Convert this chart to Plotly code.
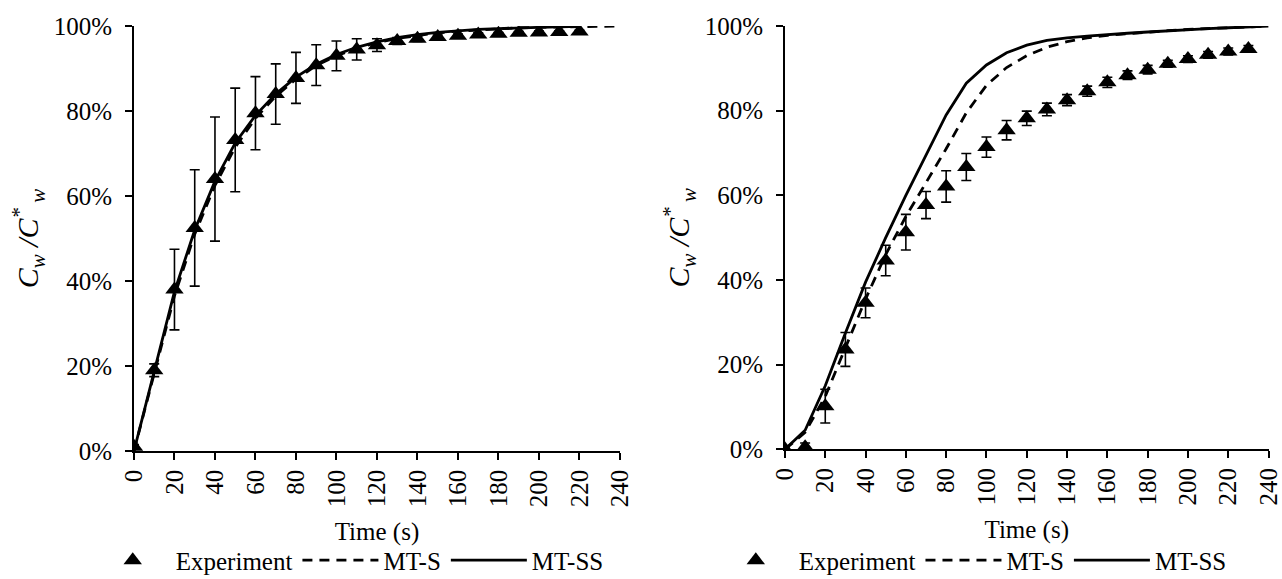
import plotly.graph_objects as go

# ---- data: left panel ----
t_exp_a = [0, 10, 20, 30, 40, 50, 60, 70, 80, 90, 100, 110, 120, 130, 140, 150, 160, 170, 180, 190, 200, 210, 220]
exp_a = [1.0, 19.0, 38.0, 52.5, 64.0, 73.2, 79.5, 84.0, 87.8, 90.8, 93.0, 94.5, 95.5, 96.5, 97.0, 97.4, 97.7, 98.0, 98.2, 98.4, 98.5, 98.6, 98.7]
err_a = [0.5, 1.5, 9.5, 13.7, 14.6, 12.2, 8.6, 7.1, 6.0, 4.8, 3.5, 2.5, 1.5, 0.8, 0.6, 0.5, 0.4, 0.4, 0.3, 0.3, 0.3, 0.3, 0.3]

t_mts_a = [0, 10, 20, 30, 40, 50, 60, 70, 80, 90, 100, 110, 120, 130, 140, 150, 160, 170, 180, 190, 200, 210, 220, 230, 240]
mts_a = [0.0, 18.5, 36.5, 51.0, 62.5, 71.5, 78.3, 83.5, 87.5, 90.7, 93.0, 94.8, 96.1, 97.1, 97.8, 98.4, 98.8, 99.1, 99.4, 99.6, 99.7, 99.8, 99.9, 100.0, 100.0]

t_mtss_a = [0, 10, 20, 30, 40, 50, 60, 70, 80, 90, 100, 110, 120, 130, 140, 150, 160, 170, 180, 190, 200, 210, 220]
mtss_a = [0.0, 19.0, 37.5, 52.0, 63.5, 72.5, 79.0, 84.0, 88.0, 91.0, 93.3, 95.0, 96.3, 97.3, 98.0, 98.5, 98.9, 99.2, 99.4, 99.6, 99.7, 99.8, 99.9]

# ---- data: right panel ----
t_exp_b = [0, 10, 20, 30, 40, 50, 60, 70, 80, 90, 100, 110, 120, 130, 140, 150, 160, 170, 180, 190, 200, 210, 220, 230]
exp_b = [0.0, 0.5, 10.2, 23.6, 34.6, 44.6, 51.3, 57.7, 62.1, 66.7, 71.4, 75.4, 78.2, 80.3, 82.5, 84.6, 86.7, 88.4, 89.7, 91.1, 92.2, 93.2, 94.0, 94.6]
err_b = [0.3, 1.0, 4.0, 4.0, 3.5, 3.6, 4.2, 3.2, 3.7, 3.2, 2.4, 2.3, 1.7, 1.5, 1.3, 1.2, 1.2, 1.0, 1.0, 0.8, 0.8, 0.8, 0.8, 0.8]

t_mod_b = [0, 10, 20, 30, 40, 50, 60, 70, 80, 90, 100, 110, 120, 130, 140, 150, 160, 170, 180, 190, 200, 210, 220, 230, 240]
mts_b = [0.0, 4.0, 12.5, 24.0, 35.5, 46.0, 55.0, 63.0, 71.0, 79.5, 86.0, 90.2, 93.0, 95.0, 96.3, 97.2, 97.8, 98.2, 98.6, 98.9, 99.2, 99.4, 99.6, 99.8, 100.0]
mtss_b = [0.0, 4.5, 15.0, 27.5, 39.5, 50.0, 60.0, 69.5, 79.0, 86.5, 90.8, 93.7, 95.5, 96.6, 97.2, 97.6, 98.0, 98.3, 98.6, 98.9, 99.2, 99.4, 99.6, 99.8, 100.0]

x_ticks = list(range(0, 241, 20))
y_ticks = [0, 20, 40, 60, 80, 100]
y_ticktext = [f"{v}%" for v in y_ticks]

FONT = "Times New Roman, Liberation Serif, DejaVu Serif, serif"
BLACK = "#000000"
FS = 25

fig = go.Figure()


def add_panel(xa, ya, legend, t_exp, exp, err, t_s, mts, t_ss, mtss):
    fig.add_trace(go.Scatter(
        x=t_exp, y=exp, mode="markers", name="Experiment",
        marker=dict(symbol="triangle-up", size=16, color=BLACK),
        error_y=dict(type="data", array=err, visible=True, color=BLACK, thickness=1.6, width=5),
        xaxis=xa, yaxis=ya, legend=legend,
    ))
    fig.add_trace(go.Scatter(
        x=t_s, y=mts, mode="lines", name="MT-S",
        line=dict(color=BLACK, width=2.8, dash="10px,7px"),
        xaxis=xa, yaxis=ya, legend=legend,
    ))
    fig.add_trace(go.Scatter(
        x=t_ss, y=mtss, mode="lines", name="MT-SS",
        line=dict(color=BLACK, width=2.8),
        xaxis=xa, yaxis=ya, legend=legend,
    ))


add_panel("x", "y", "legend", t_exp_a, exp_a, err_a, t_mts_a, mts_a, t_mtss_a, mtss_a)
add_panel("x2", "y2", "legend2", t_exp_b, exp_b, err_b, t_mod_b, mts_b, t_mod_b, mtss_b)

xaxis_common = dict(
    range=[0, 240], tickvals=x_ticks, tickangle=-90, automargin=False,
    ticklabeloverflow="allow",
    showline=True, linecolor=BLACK, linewidth=1.6, mirror=False,
    ticks="outside", ticklen=7, tickwidth=1.6, tickcolor=BLACK,
    showgrid=False, zeroline=False,
    tickfont=dict(family=FONT, size=FS, color=BLACK),
    title=dict(text="Time (s)", font=dict(family=FONT, size=FS, color=BLACK), standoff=16),
)
yaxis_common = dict(
    range=[0, 100], tickvals=y_ticks, ticktext=y_ticktext, automargin=False,
    showline=True, linecolor=BLACK, linewidth=1.6,
    ticks="outside", ticklen=7, tickwidth=1.6, tickcolor=BLACK,
    showgrid=False, zeroline=False, ticklabelstandoff=8,
    tickfont=dict(family=FONT, size=FS, color=BLACK),
    title=dict(
        text="<i>C<sub>w</sub> /C<sup>*</sup><sub> w</sub></i>",
        font=dict(family=FONT, size=30, color=BLACK), standoff=6,
    ),
)

legend_common = dict(
    orientation="h", yanchor="middle", y=0.032, xanchor="left",
    font=dict(family=FONT, size=FS, color=BLACK),
    bgcolor="rgba(0,0,0,0)", itemwidth=76, tracegroupgap=0,
)

fig.update_layout(
    width=1282, height=579,
    margin=dict(l=0, r=0, t=0, b=0, autoexpand=False),
    paper_bgcolor="white", plot_bgcolor="white",
    font=dict(family=FONT),
    showlegend=True,
    xaxis=dict(domain=[0.1045, 0.4836], anchor="y", **xaxis_common),
    yaxis=dict(domain=[0.221, 0.955], anchor="x", **yaxis_common),
    xaxis2=dict(domain=[0.6123, 0.9895], anchor="y2", **xaxis_common),
    yaxis2=dict(domain=[0.224, 0.955], anchor="x2", **yaxis_common),
    legend=dict(x=0.070, **legend_common),
    legend2=dict(x=0.556, **legend_common),
)

fig.write_html("out.html")
